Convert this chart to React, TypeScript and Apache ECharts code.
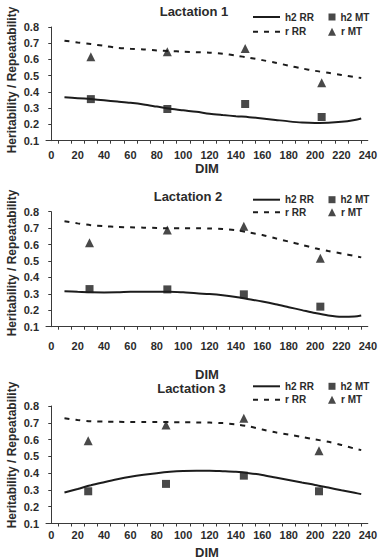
import React, { useEffect, useRef } from "react";
import * as echarts from "echarts";

// ---------- data ----------
const TITLES = ["Lactation 1", "Lactation 2", "Lactation 3"];
const X_LABELS = [0, 20, 40, 60, 80, 100, 120, 140, 160, 180, 200, 220, 240];
const X_TICKS = [5, 15, 25, 35, 45, 55, 65, 75, 85, 95, 105, 115, 125, 135, 145, 155, 165, 175, 185, 195, 205, 215, 225, 235];

const DIM_RR = [10, 20, 30, 40, 50, 60, 70, 80, 90, 100, 110, 120, 130, 140, 150, 160, 170, 180, 190, 200, 210, 220, 230, 235];

const H2_RR_1 = [0.367, 0.362, 0.356, 0.349, 0.341, 0.333, 0.323, 0.31, 0.297, 0.287, 0.278, 0.266, 0.258, 0.251, 0.245, 0.237, 0.228, 0.219, 0.212, 0.209, 0.21, 0.216, 0.228, 0.237];
const R_RR_1 = [0.716, 0.705, 0.695, 0.684, 0.672, 0.666, 0.662, 0.656, 0.652, 0.648, 0.645, 0.642, 0.636, 0.624, 0.611, 0.596, 0.58, 0.562, 0.545, 0.53, 0.518, 0.505, 0.492, 0.486];
const DIM_MT_1 = [30, 88, 147, 205];
const H2_MT_1 = [0.356, 0.295, 0.326, 0.246];
const R_MT_1 = [0.617, 0.648, 0.667, 0.457];

const H2_RR_2 = [0.316, 0.312, 0.309, 0.308, 0.309, 0.312, 0.313, 0.313, 0.313, 0.309, 0.303, 0.299, 0.292, 0.281, 0.267, 0.253, 0.237, 0.219, 0.201, 0.183, 0.168, 0.16, 0.162, 0.168];
const R_RR_2 = [0.742, 0.729, 0.718, 0.712, 0.707, 0.705, 0.703, 0.701, 0.699, 0.699, 0.699, 0.698, 0.695, 0.687, 0.673, 0.658, 0.638, 0.618, 0.598, 0.578, 0.561, 0.546, 0.53, 0.522];
const DIM_MT_2 = [29, 88, 146, 204];
const H2_MT_2 = [0.329, 0.327, 0.297, 0.222];
const R_MT_2 = [0.611, 0.688, 0.711, 0.517];

const H2_RR_3 = [0.285, 0.306, 0.328, 0.346, 0.363, 0.378, 0.39, 0.4, 0.408, 0.413, 0.415, 0.415, 0.412, 0.408, 0.4, 0.389, 0.374, 0.359, 0.344, 0.33, 0.314, 0.298, 0.283, 0.275];
const R_RR_3 = [0.727, 0.717, 0.709, 0.707, 0.706, 0.705, 0.705, 0.705, 0.704, 0.703, 0.702, 0.701, 0.698, 0.69, 0.678, 0.66, 0.643, 0.63, 0.616, 0.601, 0.587, 0.568, 0.546, 0.537];
const DIM_MT_3 = [28, 87, 146, 203];
const H2_MT_3 = [0.292, 0.336, 0.385, 0.292];
const R_MT_3 = [0.593, 0.687, 0.727, 0.533];

const H2_RR = [H2_RR_1, H2_RR_2, H2_RR_3];
const R_RR = [R_RR_1, R_RR_2, R_RR_3];
const DIM_MT = [DIM_MT_1, DIM_MT_2, DIM_MT_3];
const H2_MT = [H2_MT_1, H2_MT_2, H2_MT_3];
const R_MT = [R_MT_1, R_MT_2, R_MT_3];

// ---------- layout ----------
const PANELS = [
  { top: 27, bottom: 140.7, labelMargin: 9, nameGap: 21, titleX: 194, titleY: 12.7, legY: [18, 32.7], yTitleY: 80 },
  { top: 211.7, bottom: 326.7, labelMargin: 13.5, nameGap: 41, titleX: 188, titleY: 198.3, legY: [200.7, 213.3], yTitleY: 263 },
  { top: 406, bottom: 524, labelMargin: 6, nameGap: 22.5, titleX: 191.5, titleY: 390, legY: [387.3, 400.7], yTitleY: 455 },
];

const FONT = '"Liberation Sans", Arial, sans-serif';
const TXT = "#2b2b2b";
const INK = "#1c1c1c";
const AXIS = "#3a3a3a";
const SOLID_ICON = "path://M0,0h27v2h-27z";
const DASH_ICON = "path://M0,0h5v2h-5zM11,0h5v2h-5zM22,0h5v2h-5z";

export default function App() {
  const ref = useRef<HTMLDivElement>(null);

  useEffect(() => {
    if (!ref.current) return;
    const chart = echarts.init(ref.current, undefined, { renderer: "svg" });

    const grid: any[] = [];
    const xAxis: any[] = [];
    const yAxis: any[] = [];
    const series: any[] = [];
    const title: any[] = [];
    const legend: any[] = [];
    const graphic: any[] = [];

    PANELS.forEach((p, i) => {
      grid.push({ left: 46, right: 10, top: p.top, height: p.bottom - p.top });
      xAxis.push({
        type: "value",
        gridIndex: i,
        min: -4,
        max: 240,
        name: "DIM",
        nameLocation: "middle",
        nameGap: p.nameGap,
        nameTextStyle: { fontFamily: FONT, fontWeight: "bold", fontSize: 13, color: TXT },
        axisLine: { show: true, lineStyle: { color: AXIS, width: 1 } },
        axisTick: { show: true, length: 3, inside: false, customValues: X_TICKS, lineStyle: { color: AXIS } },
        axisLabel: {
          customValues: X_LABELS,
          margin: p.labelMargin,
          fontFamily: FONT,
          fontWeight: "bold",
          fontSize: 11,
          color: TXT,
        },
        splitLine: { show: false },
      });
      yAxis.push({
        type: "value",
        gridIndex: i,
        min: 0.1,
        max: 0.8,
        interval: 0.1,
        axisLine: { show: true, lineStyle: { color: AXIS, width: 1 } },
        axisTick: { show: true, length: 3, inside: false, lineStyle: { color: AXIS } },
        axisLabel: {
          formatter: (v: number) => v.toFixed(1),
          margin: 7,
          fontFamily: FONT,
          fontWeight: "bold",
          fontSize: 11,
          color: TXT,
        },
        splitLine: { show: false },
      });

      series.push({
        type: "line",
        name: "h2 RR",
        xAxisIndex: i,
        yAxisIndex: i,
        data: DIM_RR.map((d, j) => [d, H2_RR[i][j]]),
        symbol: "none",
        smooth: 0.3,
        lineStyle: { color: INK, width: 2 },
        itemStyle: { color: INK },
      });
      series.push({
        type: "line",
        name: "r RR",
        xAxisIndex: i,
        yAxisIndex: i,
        data: DIM_RR.map((d, j) => [d, R_RR[i][j]]),
        symbol: "none",
        smooth: 0.3,
        lineStyle: { color: INK, width: 2, type: [5, 6] },
        itemStyle: { color: INK },
      });
      series.push({
        type: "scatter",
        name: "h2 MT",
        xAxisIndex: i,
        yAxisIndex: i,
        data: DIM_MT[i].map((d, j) => [d, H2_MT[i][j]]),
        symbol: "rect",
        symbolSize: 8,
        itemStyle: { color: INK },
      });
      series.push({
        type: "scatter",
        name: "r MT",
        xAxisIndex: i,
        yAxisIndex: i,
        data: DIM_MT[i].map((d, j) => [d, R_MT[i][j]]),
        symbol: "triangle",
        symbolSize: 9,
        itemStyle: { color: INK },
      });

      title.push({
        text: TITLES[i],
        left: p.titleX,
        top: p.titleY - 8,
        textAlign: "center",
        padding: 0,
        textStyle: { fontFamily: FONT, fontWeight: "bold", fontSize: 13, color: TXT },
      });

      const legText = { fontFamily: FONT, fontWeight: "bold", fontSize: 10, color: TXT };
      const legItems = [
        { name: "h2 RR", icon: SOLID_ICON, left: 253, row: 0, w: 27, h: 2 },
        { name: "h2 MT", icon: "rect", left: 328.5, row: 0, w: 7, h: 7 },
        { name: "r RR", icon: DASH_ICON, left: 253, row: 1, w: 27, h: 2 },
        { name: "r MT", icon: "triangle", left: 328, row: 1, w: 8, h: 8 },
      ];
      legItems.forEach((li) => {
        legend.push({
          data: [{ name: li.name, icon: li.icon }],
          left: li.left,
          top: p.legY[li.row] - 6,
          itemWidth: li.w,
          itemHeight: li.h,
          padding: 0,
          selectedMode: false,
          textStyle: legText,
        });
      });

      graphic.push({
        type: "text",
        x: 12,
        y: p.yTitleY,
        rotation: Math.PI / 2,
        style: {
          text: "Heritability / Repeatability",
          font: `bold 12px ${FONT}`,
          fill: TXT,
          align: "center",
          verticalAlign: "middle",
        },
      });
    });

    chart.setOption({
      animation: false,
      backgroundColor: "#ffffff",
      title,
      legend,
      grid,
      xAxis,
      yAxis,
      series,
      graphic,
    });

    return () => chart.dispose();
  }, []);

  return (
    <div
      ref={ref}
      style={{ position: "absolute", left: 0, top: 0, width: 380, height: 560 }}
    />
  );
}
